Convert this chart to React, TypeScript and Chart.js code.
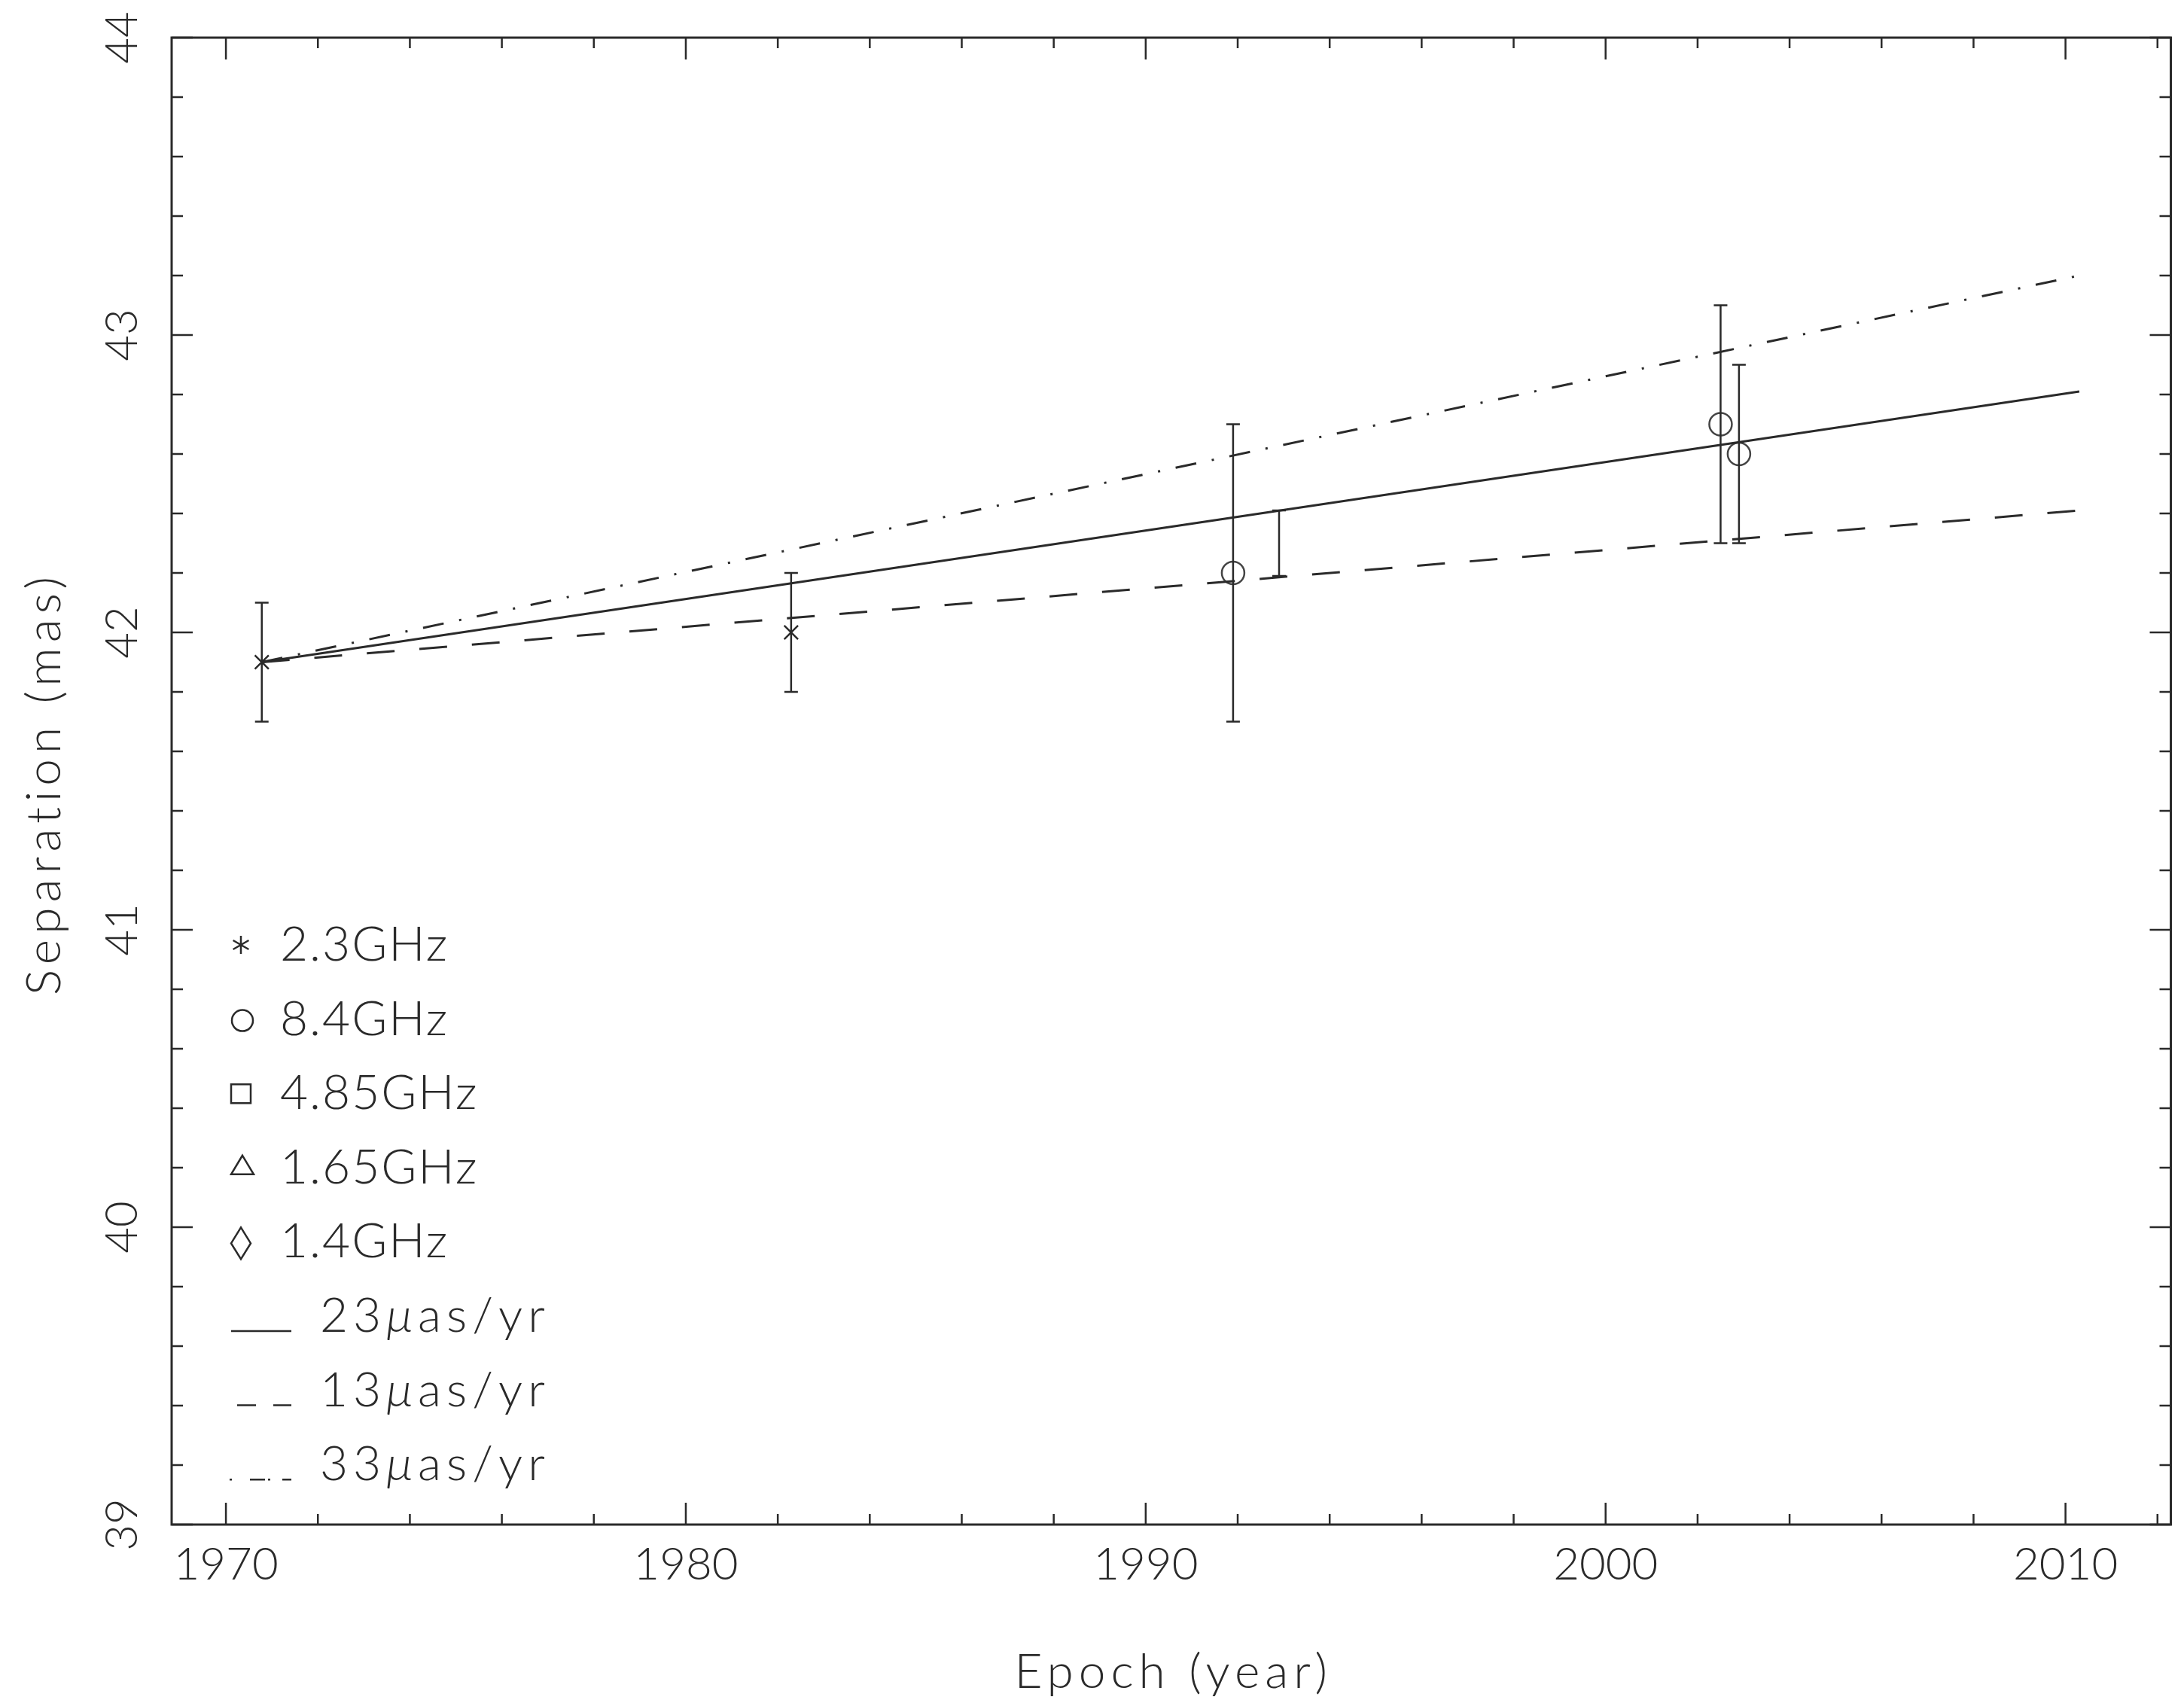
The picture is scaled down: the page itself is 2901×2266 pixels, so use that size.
import React, { useEffect, useRef } from 'react';
import { Chart, registerables } from 'chart.js';

Chart.register(...registerables);

const W = 2901;
const H = 2266;

// ---- data ----
const band23Years = [1970.78, 1982.29];
const band23Values = [41.9, 42.0];
const band23Errors = [0.2, 0.2];

const band84Years = [1991.9, 2002.5, 2002.9];
const band84Values = [42.2, 42.7, 42.6];
const band84Errors = [0.5, 0.4, 0.3];

const extraBarYears = [1992.9];
const extraBarValues = [42.3];
const extraBarErrors = [0.11];

const fitYears = [1970.78, 2010.3];
const fit23Values = [41.9, 42.81];
const fit13Values = [41.9, 42.41];
const fit33Values = [41.9, 43.2];

const xTickLabels = [1970, 1980, 1990, 2000, 2010];
const yTickLabels = [39, 40, 41, 42, 43, 44];
const xRange = [1968.82, 2012.29];
const yRange = [39, 44];

const xTitle = 'Epoch (year)';
const yTitle = 'Separation (mas)';
const markerLegend = ['2.3GHz', '8.4GHz', '4.85GHz', '1.65GHz', '1.4GHz'];
const fitLegendRates = ['23', '13', '33'];

const INK = '#2a2a2a';
const FONT = 'Lato, "Liberation Sans", sans-serif';

const toPts = (xs: number[], ys: number[]) => xs.map((x, i) => ({ x, y: ys[i] }));

const pgPlugin = {
  id: 'pgplot',
  afterDatasetsDraw(chart: any) {
    const { ctx, chartArea: a, scales } = chart;
    const xs = scales.x;
    const ys = scales.y;
    ctx.save();
    ctx.strokeStyle = INK;
    ctx.lineCap = 'butt';
    // error bars
    ctx.lineWidth = 2.5;
    const groups: [number[], number[], number[]][] = [
      [band23Years, band23Values, band23Errors],
      [band84Years, band84Values, band84Errors],
      [extraBarYears, extraBarValues, extraBarErrors],
    ];
    const cap = 9;
    groups.forEach(([yrs, vals, errs]) => {
      yrs.forEach((yr, i) => {
        const px = xs.getPixelForValue(yr);
        const pt = ys.getPixelForValue(vals[i] + errs[i]);
        const pb = ys.getPixelForValue(vals[i] - errs[i]);
        ctx.beginPath();
        ctx.moveTo(px, pt);
        ctx.lineTo(px, pb);
        ctx.moveTo(px - cap, pt);
        ctx.lineTo(px + cap, pt);
        ctx.moveTo(px - cap, pb);
        ctx.lineTo(px + cap, pb);
        ctx.stroke();
      });
    });
    // frame
    ctx.lineWidth = 3;
    ctx.strokeRect(a.left, a.top, a.right - a.left, a.bottom - a.top);
    // inward ticks, all four sides
    ctx.lineWidth = 2.5;
    ctx.beginPath();
    for (let yr = Math.ceil(xRange[0] / 2) * 2; yr <= xRange[1]; yr += 2) {
      const major = yr % 10 === 0;
      const len = major ? 29 : 14;
      const px = xs.getPixelForValue(yr);
      ctx.moveTo(px, a.bottom);
      ctx.lineTo(px, a.bottom - len);
      ctx.moveTo(px, a.top);
      ctx.lineTo(px, a.top + len);
    }
    for (let k = 0; k <= 25; k++) {
      const v = yRange[0] + k * 0.2;
      const major = k % 5 === 0;
      const len = major ? 28 : 15;
      const py = ys.getPixelForValue(v);
      ctx.moveTo(a.left, py);
      ctx.lineTo(a.left + len, py);
      ctx.moveTo(a.right, py);
      ctx.lineTo(a.right - len, py);
    }
    ctx.stroke();
    ctx.restore();
  },
  afterDraw(chart: any) {
    const { ctx, chartArea: a } = chart;
    ctx.save();
    ctx.strokeStyle = INK;
    ctx.fillStyle = INK;
    ctx.lineWidth = 2.5;

    // axis titles (wide-spaced like the plotting package's stroke font)
    ctx.font = `300 64px ${FONT}`;
    (ctx as any).letterSpacing = '7px';
    ctx.textAlign = 'center';
    ctx.textBaseline = 'alphabetic';
    ctx.fillText(xTitle, (a.left + a.right) / 2 + 3, 2242);
    ctx.save();
    ctx.translate(80, (a.top + a.bottom) / 2 + 3);
    ctx.rotate(-Math.PI / 2);
    ctx.fillText(yTitle, 0, 0);
    ctx.restore();

    // legend
    ctx.textAlign = 'left';
    const base0 = 1276;
    const step = 98.6;
    const sx = 320;
    markerLegend.forEach((label, i) => {
      const b = base0 + i * step;
      const cy = b - 21;
      ctx.beginPath();
      if (i === 0) {
        const r = 12;
        for (const ang of [90, 30, 150]) {
          const t = (ang * Math.PI) / 180;
          ctx.moveTo(sx - r * Math.cos(t), cy - r * Math.sin(t));
          ctx.lineTo(sx + r * Math.cos(t), cy + r * Math.sin(t));
        }
      } else if (i === 1) {
        ctx.arc(sx + 2, cy + 2, 14, 0, Math.PI * 2);
      } else if (i === 2) {
        ctx.rect(sx - 13, cy - 12, 26, 25);
      } else if (i === 3) {
        ctx.moveTo(sx + 2, b - 37);
        ctx.lineTo(sx + 17, b - 12);
        ctx.lineTo(sx - 13, b - 12);
        ctx.closePath();
      } else {
        ctx.moveTo(sx, b - 40);
        ctx.lineTo(sx + 13, b - 19);
        ctx.lineTo(sx, b + 2);
        ctx.lineTo(sx - 13, b - 19);
        ctx.closePath();
      }
      ctx.stroke();
      ctx.font = `300 64px ${FONT}`;
      (ctx as any).letterSpacing = '2px';
      ctx.fillText(label, 372, b);
    });
    fitLegendRates.forEach((rate, j) => {
      const b = base0 + (j + 5) * step;
      const ly = b - 1;
      ctx.lineWidth = 2.5;
      ctx.beginPath();
      if (j === 0) {
        ctx.moveTo(307, ly);
        ctx.lineTo(387, ly);
      } else if (j === 1) {
        ctx.moveTo(315, ly);
        ctx.lineTo(340, ly);
        ctx.moveTo(363, ly);
        ctx.lineTo(387, ly);
      } else {
        ctx.moveTo(305, ly);
        ctx.lineTo(308, ly);
        ctx.moveTo(332, ly);
        ctx.lineTo(352, ly);
        ctx.moveTo(356, ly);
        ctx.lineTo(359, ly);
        ctx.moveTo(375, ly);
        ctx.lineTo(387, ly);
      }
      ctx.stroke();
      let tx = 425;
      const parts: [string, string][] = [
        [rate, `300 64px ${FONT}`],
        ['\u03bc', `italic 300 64px ${FONT}`],
        ['as/yr', `300 64px ${FONT}`],
      ];
      parts.forEach(([s, f]) => {
        ctx.font = f;
        (ctx as any).letterSpacing = '7px';
        ctx.fillText(s, tx, b);
        tx += ctx.measureText(s).width;
      });
    });
    (ctx as any).letterSpacing = '0px';
    ctx.restore();
  },
};

export default function App() {
  const ref = useRef<HTMLCanvasElement | null>(null);
  useEffect(() => {
    if (!ref.current) return;
    const tickFont = { family: FONT, size: 60, weight: '300' as any };
    const chart = new Chart(ref.current, {
      type: 'scatter',
      data: {
        datasets: [
          {
            label: '23\u03bcas/yr',
            data: toPts(fitYears, fit23Values),
            showLine: true,
            borderColor: INK,
            borderWidth: 3,
            pointRadius: 0,
            fill: false,
          },
          {
            label: '13\u03bcas/yr',
            data: toPts(fitYears, fit13Values),
            showLine: true,
            borderColor: INK,
            borderWidth: 3,
            borderDash: [37, 33],
            pointRadius: 0,
            fill: false,
          },
          {
            label: '33\u03bcas/yr',
            data: toPts(fitYears, fit33Values),
            showLine: true,
            borderColor: INK,
            borderWidth: 3,
            borderDash: [28, 21, 3, 21],
            pointRadius: 0,
            fill: false,
          },
          {
            label: '2.3GHz',
            data: toPts(band23Years, band23Values),
            showLine: false,
            pointStyle: 'crossRot',
            pointRadius: 13,
            borderColor: INK,
            borderWidth: 2.5,
            backgroundColor: 'rgba(0,0,0,0)',
          },
          {
            label: '8.4GHz',
            data: toPts(band84Years, band84Values),
            showLine: false,
            pointStyle: 'circle',
            pointRadius: 15,
            borderColor: '#444',
            borderWidth: 2.5,
            backgroundColor: 'rgba(0,0,0,0)',
          },
        ],
      },
      options: {
        responsive: false,
        animation: false,
        devicePixelRatio: 1,
        layout: { padding: { left: 0, top: 50, right: 15, bottom: 0 } },
        plugins: { legend: { display: false }, tooltip: { enabled: false } },
        scales: {
          x: {
            type: 'linear',
            min: xRange[0],
            max: xRange[1],
            grid: { display: false, drawTicks: false },
            border: { display: false },
            ticks: {
              font: tickFont,
              color: INK,
              padding: 18,
              minRotation: 0,
              maxRotation: 0,
              autoSkip: false,
              callback: (v: any) => String(v),
            },
            afterBuildTicks: (s: any) => {
              s.ticks = xTickLabels.map((v) => ({ value: v }));
            },
            afterFit: (s: any) => {
              s.height = H - 2025;
              s.paddingLeft = 0;
              s.paddingRight = 0;
            },
          },
          y: {
            type: 'linear',
            min: yRange[0],
            max: yRange[1],
            grid: { display: false, drawTicks: false },
            border: { display: false },
            ticks: {
              font: tickFont,
              color: INK,
              padding: 31,
              minRotation: 90,
              maxRotation: 90,
              crossAlign: 'center',
              autoSkip: false,
              callback: (v: any) => String(v),
            },
            afterBuildTicks: (s: any) => {
              s.ticks = yTickLabels.map((v) => ({ value: v }));
            },
            afterFit: (s: any) => {
              s.width = 228;
              s.paddingTop = 0;
              s.paddingBottom = 0;
            },
          },
        },
      },
      plugins: [pgPlugin],
    } as any);
    return () => chart.destroy();
  }, []);
  return (
    <div style={{ position: 'fixed', left: 0, top: 0, width: W, height: H, background: '#fff' }}>
      <canvas ref={ref} width={W} height={H} style={{ width: W, height: H, display: 'block' }} />
    </div>
  );
}
